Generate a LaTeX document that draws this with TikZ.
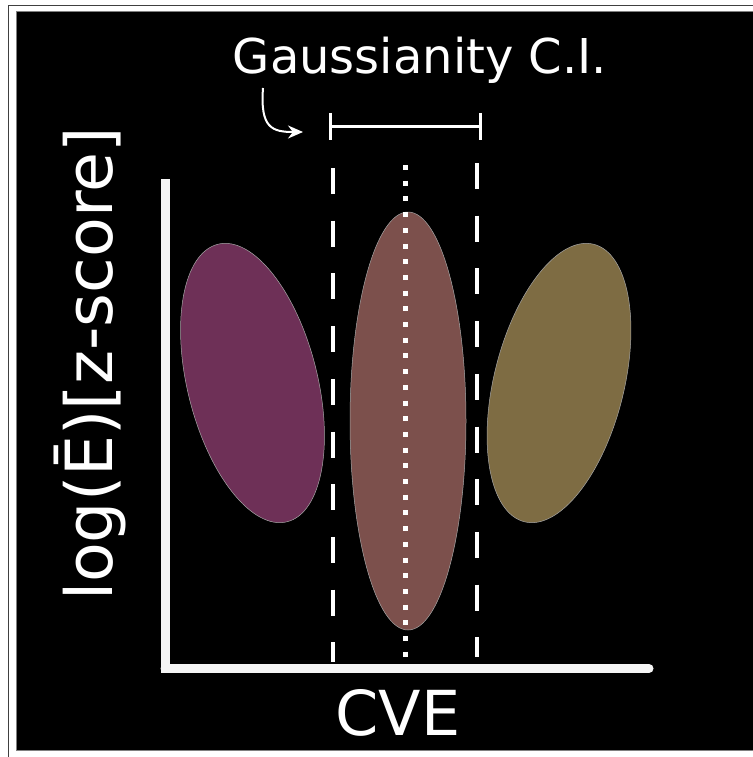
\documentclass[tikz,border=0pt]{standalone}
\usepackage{fontspec}
\setmainfont{DejaVu Sans}
\usetikzlibrary{arrows.meta,shapes.geometric}
\definecolor{purp}{RGB}{110,48,87}
\definecolor{rose}{RGB}{124,80,76}
\definecolor{olivec}{RGB}{126,108,67}
\definecolor{axisw}{RGB}{245,245,245}
\tikzset{
  blob/.style={ellipse, inner sep=0pt, draw=gray!70, line width=0.5pt},
  axisline/.style={axisw, line width=9pt},
  cidash/.style={white, line width=4pt, dash pattern=on 26pt off 26.7pt},
  cidot/.style={white, line width=5pt, dash pattern=on 5pt off 10.7pt},
  cibar/.style={white, line width=3pt},
  lab/.style={white, inner sep=0pt},
}
\begin{document}
\begin{tikzpicture}[x=1pt,y=-1pt]
\fill[white] (0,0) rectangle (752,757);
\useasboundingbox (0,0) rectangle (752,757);
% frames
\draw[gray!50!black, line width=0.8pt] (8,770) -- (8,5) -- (770,5);
\fill[black, draw=gray, line width=0.6pt] (16,11) rectangle (770,750);
% ellipses
\node[blob, fill=purp, minimum width=130pt, minimum height=286pt, rotate=14] (L) at (252.5,383) {};
\node[blob, fill=olivec, minimum width=130pt, minimum height=286pt, rotate=-14] (R) at (559,383) {};
\node[blob, fill=rose, minimum width=116pt, minimum height=418pt] (M) at (408,421) {};
% guide lines
\coordinate (d1t) at (333,168); \coordinate (d1b) at (333,662);
\coordinate (d2t) at (477,163); \coordinate (d2b) at (477,657);
\coordinate (dmt) at (405.5,165); \coordinate (dmb) at (405.5,662);
\draw[cidash] (d1t) -- (d1b);
\draw[cidash] (d2t) -- (d2b);
\draw[cidot] (dmt) -- (dmb);
% axes
\coordinate (o) at (165,668.5);
\coordinate (ytop) at (165,179);
\coordinate (xend) at (649,668.5);
\draw[axisline, line cap=round] (o) -- (xend);
\draw[axisline] (ytop) -- (165,673);
% CI bar
\coordinate (b1) at (330,127); \coordinate (b2) at (480,127);
\draw[cibar] (b1) -- (b2);
\draw[cibar] (330,113) -- (330,140);
\draw[cibar] (480,113) -- (480,140);
% arrow
\coordinate (as) at (263,88);
\coordinate (ae) at (303,132);
\draw[white, line width=2pt, -{Stealth[length=15pt,width=13pt]}] (as) .. controls (260,128) and (272,132) .. (ae);
% labels
\node[lab, anchor=base, font=\fontsize{48}{48}\selectfont] (title) at (420,74) {Gaussianity C.I.};
\node[lab, anchor=base, font=\fontsize{62}{62}\selectfont] (cve) at (398,735) {CVE};
\node[lab, rotate=90, font=\fontsize{65}{65}\selectfont] (ylab) at (90,364) {log(Ē)[z-score]};
\end{tikzpicture}
\end{document}
